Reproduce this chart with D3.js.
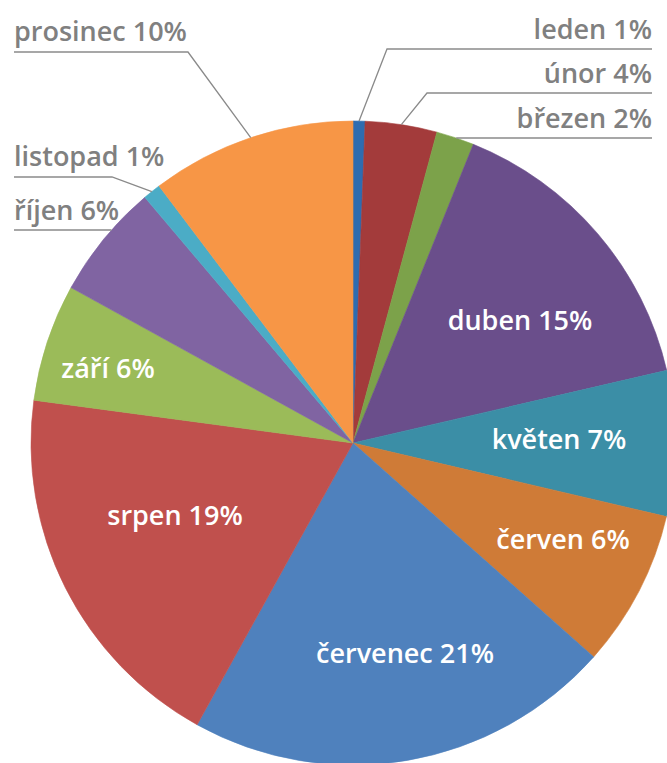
<!DOCTYPE html>
<html>
<head>
<meta charset="utf-8">
<script src="https://cdn.jsdelivr.net/npm/d3@7"></script>
<style>
  html, body { margin: 0; padding: 0; background: #ffffff; }
  svg { display: block; }
</style>
</head>
<body>
<svg id="chart" width="667" height="763"></svg>
<script>
// ---- data ----
const months = ["leden", "únor", "březen", "duben", "květen", "červen", "červenec", "srpen", "září", "říjen", "listopad", "prosinec"];
const shares = [0.6, 3.6, 1.9, 15.3, 7.3, 7.9, 21.5, 19.1, 5.9, 5.8, 0.9, 10.3];
const labelPercents = [1, 4, 2, 15, 7, 6, 21, 19, 6, 6, 1, 10];
const colors = ["#2e6cb0", "#a33b3b", "#7ca24a", "#6a4e8b", "#3b8ea6", "#cf7b37", "#4f81bd", "#c0504d", "#9bbb59", "#8064a2", "#4bacc6", "#f79646"];

// ---- layout ----
const W = 667, H = 763;
const cx = 353, cy = 443, R = 322;
const FONT = "'Open Sans', 'DejaVu Sans', sans-serif";
const FS = 27;

const svg = d3.select("#chart");
const g = svg.append("g").attr("transform", `translate(${cx},${cy})`);

const data = months.map((m, i) => ({ month: m, value: shares[i], pct: labelPercents[i], color: colors[i] }));
const pie = d3.pie().sort(null).value(d => d.value).startAngle(0).endAngle(2 * Math.PI);
const arcs = pie(data);
const arc = d3.arc().innerRadius(0).outerRadius(R);

g.selectAll("path.slice")
  .data(arcs)
  .join("path")
  .attr("class", "slice")
  .attr("d", arc)
  .attr("fill", d => d.data.color)
  .attr("stroke", d => d.data.color)
  .attr("stroke-width", 0.6);

// inside labels: position in page coordinates (center x, baseline y)
const inside = {
  "duben": [520, 330],
  "květen": [559, 449],
  "červen": [563, 549],
  "červenec": [405, 663],
  "srpen": [175, 525],
  "září": [108, 378]
};
svg.append("g").selectAll("text")
  .data(arcs.filter(d => inside[d.data.month]))
  .join("text")
  .attr("x", d => inside[d.data.month][0])
  .attr("y", d => inside[d.data.month][1])
  .attr("text-anchor", "middle")
  .attr("fill", "#ffffff")
  .attr("font-family", FONT)
  .attr("font-weight", 600)
  .attr("font-size", FS)
  .text(d => `${d.data.month} ${d.data.pct}%`);

// outside labels
// side, text edge x, baseline y, underline y, elbow x (null = meets the pie edge horizontally)
const outside = {
  "leden":    { side: "right", tx: 652, ty: 39,  uy: 49,  ex: 387 },
  "únor":     { side: "right", tx: 652, ty: 83,  uy: 93,  ex: 427 },
  "březen":   { side: "right", tx: 652, ty: 128, uy: 138, ex: null },
  "prosinec": { side: "left",  tx: 14,  ty: 41,  uy: 52,  ex: 188 },
  "listopad": { side: "left",  tx: 14,  ty: 166, uy: 177, ex: 112 },
  "říjen":    { side: "left",  tx: 14,  ty: 220, uy: 230, ex: null }
};
const og = svg.append("g");
arcs.filter(d => outside[d.data.month]).forEach(d => {
  const o = outside[d.data.month];
  const mid = (d.startAngle + d.endAngle) / 2;
  let pts;
  if (o.ex === null) {
    const dy = cy - o.uy;
    const dx = Math.sqrt(R * R - dy * dy);
    const px = o.side === "right" ? cx + dx : cx - dx;
    pts = [[o.tx, o.uy], [px, o.uy]];
  } else {
    const px = cx + R * Math.sin(mid), py = cy - R * Math.cos(mid);
    pts = [[o.tx, o.uy], [o.ex, o.uy], [px, py]];
  }
  og.append("path")
    .attr("d", d3.line()(pts))
    .attr("fill", "none")
    .attr("stroke", "#8a8a8a")
    .attr("stroke-width", 1.3);
  og.append("text")
    .attr("x", o.tx)
    .attr("y", o.ty)
    .attr("text-anchor", o.side === "right" ? "end" : "start")
    .attr("fill", "#808080")
    .attr("font-family", FONT)
    .attr("font-weight", 600)
    .attr("font-size", FS)
    .text(`${d.data.month} ${d.data.pct}%`);
});
</script>
</body>
</html>
